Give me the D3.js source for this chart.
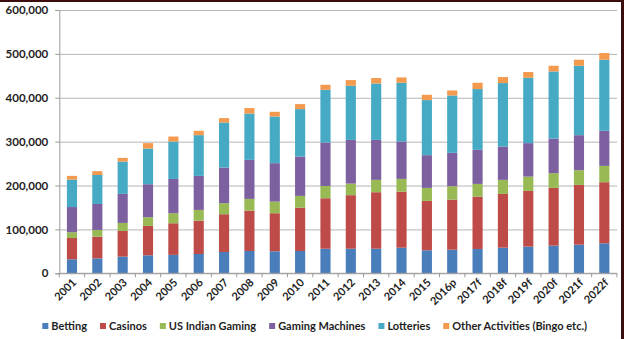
<!DOCTYPE html>
<html>
<head>
<meta charset="utf-8">
<script src="https://cdn.jsdelivr.net/npm/d3@7"></script>
<style>
body { margin: 0; background: #fff; }
svg { display: block; }
text { font-family: Lato, "Open Sans", sans-serif; font-weight: bold; fill: #1e1e1e; }
</style>
</head>
<body>
<script>
//Data (revenue)
var categories = ["2001", "2002", "2003", "2004", "2005", "2006", "2007", "2008", "2009", "2010",
                  "2011", "2012", "2013", "2014", "2015", "2016p", "2017f", "2018f", "2019f",
                  "2020f", "2021f", "2022f"];
var betting   = [32000, 34000, 38000, 41000, 42000, 44000, 48600, 50900, 50200, 50900, 56000,
                 56000, 56000, 58400, 52500, 53800, 55400, 58400, 60700, 63000, 65300, 68400];
var casinos   = [48500, 49500, 58500, 67000, 72000, 76000, 86000, 91900, 86700, 98800, 115000,
                 122000, 128800, 127800, 112500, 114100, 119400, 122500, 127100, 131600, 136200, 139200];
var indian    = [13000, 15300, 18300, 19800, 23000, 24400, 25100, 26700, 26500, 26700, 28000,
                 26400, 28100, 28900, 29600, 30600, 28900, 32000, 32600, 33600, 33500, 37200];
var machines  = [57500, 59200, 66200, 75200, 78000, 77600, 81300, 89000, 87600, 89600, 99000,
                 99600, 91100, 85200, 74600, 76000, 77600, 76000, 76200, 78800, 79800, 79900];
var lotteries = [62500, 66000, 73600, 81300, 85300, 92800, 102600, 105500, 106300, 108200, 120200,
                 123300, 128600, 133900, 125500, 130700, 138500, 144600, 149000, 153000, 158200, 162000];
var other     = [8500, 8700, 8400, 12300, 11400, 9900, 10000, 12500, 10700, 11400, 11400,
                 13000, 12300, 12100, 12100, 11400, 14400, 13700, 13000, 13000, 13700, 15200];
var seriesNames = ["Betting", "Casinos", "US Indian Gaming", "Gaming Machines", "Lotteries",
                   "Other Activities (Bingo etc.)"];
var yTicks = [0, 100000, 200000, 300000, 400000, 500000, 600000];

//Width and height
var w = 624;
var h = 339;
var margin = {left: 59.3, right: 7, top: 10, bottom: 65.7};

//Build table for the stack
var seriesData = [betting, casinos, indian, machines, lotteries, other];
var table = categories.map((c, i) => {
    var row = {cat: c};
    seriesNames.forEach((s, j) => { row[s] = seriesData[j][i]; });
    return row;
});
var stacked = d3.stack().keys(seriesNames)(table);

var color = d3.scaleOrdinal()
              .domain(seriesNames)
              .range(["#4a7ebb", "#be4b48", "#98b954", "#7d60a0", "#46aac5", "#f39a4f"]);

//Scales
var x = d3.scaleBand()
          .domain(categories)
          .range([margin.left, w - margin.right])
          .paddingInner(0.6)
          .paddingOuter(0.3);
var y = d3.scaleLinear()
          .domain([0, 600000])
          .range([h - margin.bottom, margin.top]);

//Create SVG element
var svg = d3.select("body")
            .append("svg")
            .attr("width", w)
            .attr("height", h);

svg.append("rect").attr("width", w).attr("height", h).attr("fill", "#fff");

//Gridlines
svg.append("g")
   .attr("transform", "translate(" + margin.left + ",0)")
   .call(d3.axisLeft(y).tickValues(yTicks).tickSize(-(w - margin.right - margin.left)).tickFormat(""))
   .call(g => g.select(".domain").remove())
   .call(g => g.selectAll("line").attr("stroke", "#b5b5b5").attr("stroke-width", 1));

//Y axis
var yAxis = svg.append("g")
   .attr("transform", "translate(" + margin.left + ",0)")
   .call(d3.axisLeft(y).tickValues(yTicks).tickSize(4).tickPadding(7).tickFormat(d3.format(",")));
yAxis.select(".domain").attr("stroke", "#9a9a9a");
yAxis.selectAll("line").attr("stroke", "#9a9a9a");
yAxis.selectAll("text").attr("font-size", "11.5px").attr("fill", "#1e1e1e");

//Bars
svg.selectAll("g.layer")
   .data(stacked)
   .enter()
   .append("g")
   .attr("class", "layer")
   .attr("fill", (d) => color(d.key))
   .selectAll("rect")
   .data((d) => d)
   .enter()
   .append("rect")
   .attr("x", (d) => x(d.data.cat))
   .attr("width", x.bandwidth())
   .attr("y", (d) => y(d[1]))
   .attr("height", (d) => y(d[0]) - y(d[1]));

//X axis line and tick marks at category boundaries
var y0 = y(0);
svg.append("line")
   .attr("x1", margin.left).attr("x2", w - margin.right)
   .attr("y1", y0).attr("y2", y0)
   .attr("stroke", "#9a9a9a");
var bounds = categories.map((c) => x(c) + x.bandwidth() / 2 - x.step() / 2);
bounds.push(w - margin.right);
svg.selectAll("line.xtick")
   .data(bounds)
   .enter()
   .append("line")
   .attr("class", "xtick")
   .attr("x1", (d) => d).attr("x2", (d) => d)
   .attr("y1", y0).attr("y2", y0 + 4)
   .attr("stroke", "#9a9a9a");

//X labels, rotated
svg.selectAll("text.xlab")
   .data(categories)
   .enter()
   .append("text")
   .attr("class", "xlab")
   .attr("text-anchor", "end")
   .attr("font-size", "11px")
   .attr("transform", (d) => "translate(" + (x(d) + x.bandwidth() / 2 + 5) + "," + (y0 + 10) + ") rotate(-45)")
   .text((d) => d);

//Legend
var legend = svg.append("g");
var lx = 0;
seriesNames.forEach((s) => {
    var item = legend.append("g").attr("transform", "translate(" + lx + ",0)");
    item.append("rect")
        .attr("x", 0).attr("y", -3)
        .attr("width", 6).attr("height", 6)
        .attr("fill", color(s));
    var t = item.append("text")
        .attr("x", 9)
        .attr("dy", "0.35em")
        .attr("font-size", "11px")
        .text(s);
    lx += 9 + t.node().getComputedTextLength() + 13;
});
var legendW = lx - 13;
legend.attr("transform", "translate(" + (314.7 - legendW / 2) + ",326)");

//Frame edges
svg.append("rect").attr("x", 0).attr("y", 0).attr("width", w).attr("height", 2).attr("fill", "#3b0d0d");
svg.append("rect").attr("x", w - 3).attr("y", 0).attr("width", 3).attr("height", h).attr("fill", "#3b0d0d");
</script>
</body>
</html>
